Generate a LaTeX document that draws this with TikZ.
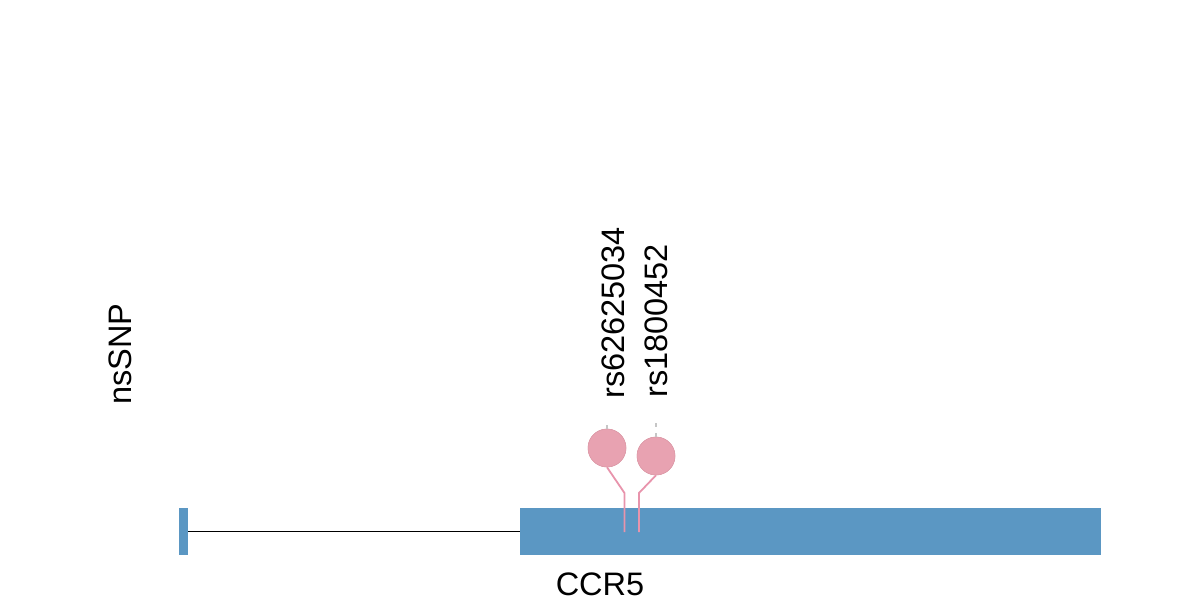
\documentclass[tikz,border=0pt]{standalone}
\usepackage{fontspec}
\setmainfont{Liberation Sans}
\definecolor{exonblue}{HTML}{5B97C3}
\definecolor{snppink}{HTML}{E8A2B1}
\definecolor{stempink}{HTML}{E894AC}
\begin{document}
\begin{tikzpicture}[x=1pt,y=-1pt,
  exon/.style={fill=exonblue, draw=none, inner sep=0pt, minimum height=47pt},
  snp/.style={circle, fill=snppink, draw=snppink!95!black, line width=0.5pt, minimum size=38pt, inner sep=0pt},
  stem/.style={draw=stempink, line width=1.8pt},
  lbl/.style={font=\fontsize{32.5}{36}\selectfont, inner sep=0pt},
  tick/.style={draw=gray!45, line width=1.2pt}]
\useasboundingbox (0,0) rectangle (1200,600);
% exons
\node[exon, minimum width=9pt] (ex1) at (183.5,531.5) {};
\node[exon, minimum width=581pt] (ex2) at (810.5,531.5) {};
\draw[line width=1.6pt] (ex1.east) -- (ex2.west);
% snps
\coordinate (s1) at (624.5,532);
\coordinate (s2) at (639,532);
\coordinate (k1) at (624.5,493);
\coordinate (k2) at (639,493);
\node[snp] (c1) at (607,448) {};
\node[snp] (c2) at (656,456) {};
\draw[stem] (s1) -- (k1) -- (c1.south);
\draw[stem] (s2) -- (k2) -- (c2.south);
\node[snp] at (c1) {};
\node[snp] at (c2) {};
\draw[tick] (c1.north) -- ++(0,-4);
\draw[tick, dash pattern=on 4pt off 6pt] (c2.north) -- ++(0,-14);
% labels
\node[lbl, rotate=90, anchor=base west] (l1) at (624,399) {rs62625034};
\node[lbl, rotate=90, anchor=base west] (l2) at (667,398) {rs1800452};
\node[lbl, rotate=90, anchor=base west] (ns) at (131,405) {nsSNP};
\node[lbl, anchor=base] (gene) at (600,595) {CCR5};
\end{tikzpicture}
\end{document}
